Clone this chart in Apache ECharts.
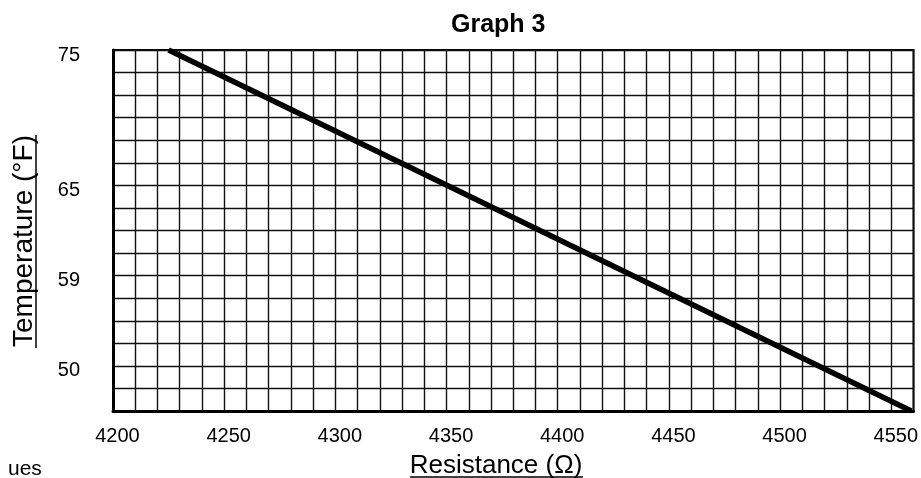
<!DOCTYPE html>
<html>
<head>
<meta charset="utf-8">
<script src="https://cdn.jsdelivr.net/npm/echarts@6/dist/echarts.min.js"></script>
<style>
html,body{margin:0;padding:0;background:#fff;}
#chart{width:921px;height:478px;}
</style>
</head>
<body>
<div id="chart"></div>
<script>
// ---- data ----
const chartTitle = 'Graph 3';
const xAxisName = 'Resistance (Ω)';
const yAxisName = 'Temperature (°F)';
const xTickValues = [4200, 4250, 4300, 4350, 4400, 4450, 4500, 4550];
const yTickLabels = ['75', '65', '59', '50'];
const yTickTemps = [75, 65, 59, 50];
const yTickRows = [0, 6, 10, 14];      // grid row (from top) of each temperature label
const resistance = [4223, 4557];       // line end points (Ω)
const temperature = [75, 45.5];        // line end points (°F)

const X_MIN = 4198, X_MAX = 4558;      // resistance range of the plot
const GRID_COLS = 36, GRID_ROWS = 16;

// temperature -> grid row, following the (non-uniform) printed temperature scale
function tempToRow(t) {
  let i = 0;
  while (i < yTickTemps.length - 2 && t < yTickTemps[i + 1]) i++;
  const t0 = yTickTemps[i], t1 = yTickTemps[i + 1];
  const r0 = yTickRows[i], r1 = yTickRows[i + 1];
  return r0 + (t - t0) * (r1 - r0) / (t1 - t0);
}
const rowLabel = {};
yTickRows.forEach((r, i) => { rowLabel[r] = yTickLabels[i]; });

const lineData = resistance.map((r, i) => [r, tempToRow(temperature[i])]);

const FONT = '"Liberation Sans", Arial, Helvetica, sans-serif';
const chart = echarts.init(document.getElementById('chart'), null, {renderer: 'canvas'});
chart.setOption({
  backgroundColor: '#ffffff',
  animation: false,
  title: {
    text: chartTitle,
    left: 446, top: 8,
    textStyle: {fontFamily: FONT, fontSize: 25, fontWeight: 'bold', color: '#000'}
  },
  grid: {
    left: 113, top: 50, right: 5, bottom: 67,
    show: true, borderColor: '#000', borderWidth: 2, backgroundColor: 'transparent'
  },
  xAxis: [
    {
      type: 'value', min: X_MIN, max: X_MAX,
      axisLine: {show: true, onZero: false, lineStyle: {color: '#000', width: 3}},
      axisTick: {show: false},
      splitLine: {show: false},
      axisLabel: {
        customValues: xTickValues,
        formatter: v => String(v),
        margin: 15,
        fontFamily: FONT, fontSize: 20, color: '#000'
      }
    },
    {
      type: 'value', min: 0, max: GRID_COLS, interval: 1,
      position: 'bottom',
      axisLine: {show: false}, axisTick: {show: false}, axisLabel: {show: false},
      splitLine: {show: true, lineStyle: {color: '#111', width: 1.4}}
    }
  ],
  yAxis: {
    type: 'value', min: 0, max: GRID_ROWS, interval: 1, inverse: true,
    axisLine: {show: true, onZero: false, lineStyle: {color: '#000', width: 3}},
    axisTick: {show: false},
    splitLine: {show: true, lineStyle: {color: '#111', width: 1.4}},
    axisLabel: {
      formatter: v => (rowLabel[v] !== undefined ? '{t|' + rowLabel[v] + '}' : ''),
      margin: 33,
      rich: {t: {fontFamily: FONT, fontSize: 20, color: '#000', padding: [10, 0, 0, 0]}},
      fontFamily: FONT, fontSize: 20, color: '#000'
    }
  },
  series: [{
    type: 'line',
    xAxisIndex: 0, yAxisIndex: 0,
    data: lineData,
    showSymbol: false, symbol: 'none',
    lineStyle: {color: '#000', width: 5.5},
    clip: true
  }],
  graphic: [
    {type: 'text', x: 24, y: 241, rotation: Math.PI / 2,
     style: {text: yAxisName, fontFamily: FONT, fontSize: 28, fill: '#000', align: 'center', verticalAlign: 'middle'}},
    {type: 'line', shape: {x1: 36, y1: 135, x2: 36, y2: 348}, style: {stroke: '#000', lineWidth: 1.5}},
    {type: 'text', x: 496, y: 466,
     style: {text: xAxisName, fontFamily: FONT, fontSize: 26, fill: '#000', align: 'center', verticalAlign: 'middle'}},
    {type: 'line', shape: {x1: 410, y1: 477, x2: 583, y2: 477}, style: {stroke: '#000', lineWidth: 1.5}},
    {type: 'text', x: 8, y: 469,
     style: {text: 'ues', fontFamily: FONT, fontSize: 21, fill: '#000', align: 'left', verticalAlign: 'middle'}}
  ]
});
</script>
</body>
</html>
